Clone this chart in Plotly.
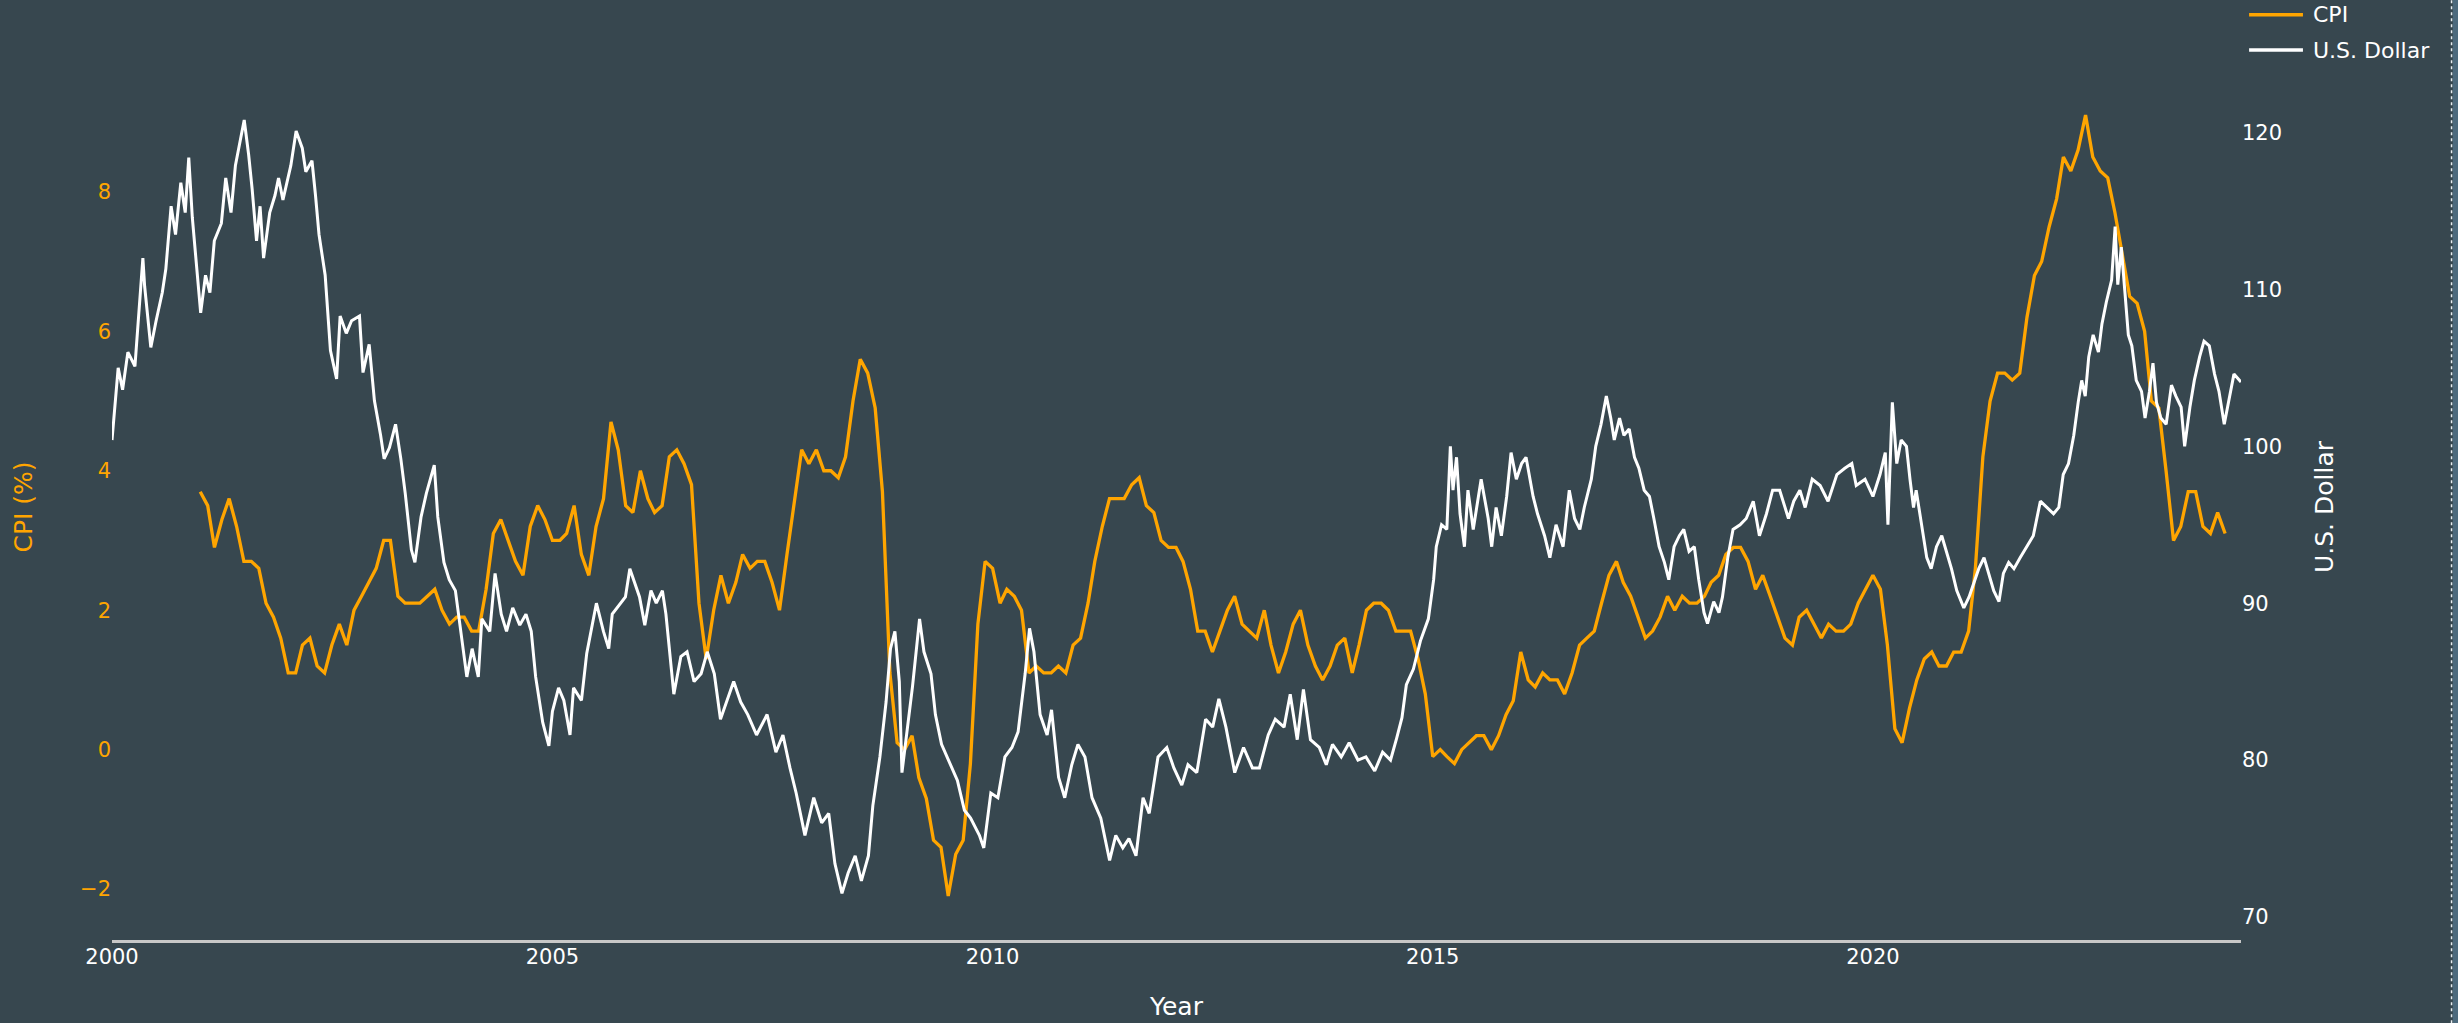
import pandas as pd
import plotly.graph_objects as go

# ---------------- DATA ----------------
# Monthly CPI year-over-year change (%), Jan 2001 .. Jan 2024
cpi_start = "2001-01-01"
cpi_values = [
    3.7, 3.5, 2.9, 3.3, 3.6, 3.2, 2.7, 2.7, 2.6, 2.1, 1.9, 1.6,
    1.1, 1.1, 1.5, 1.6, 1.2, 1.1, 1.5, 1.8, 1.5, 2.0, 2.2, 2.4,
    2.6, 3.0, 3.0, 2.2, 2.1, 2.1, 2.1, 2.2, 2.3, 2.0, 1.8, 1.9,
    1.9, 1.7, 1.7, 2.3, 3.1, 3.3, 3.0, 2.7, 2.5, 3.2, 3.5, 3.3,
    3.0, 3.0, 3.1, 3.5, 2.8, 2.5, 3.2, 3.6, 4.7, 4.3, 3.5, 3.4,
    4.0, 3.6, 3.4, 3.5, 4.2, 4.3, 4.1, 3.8, 2.1, 1.3, 2.0, 2.5,
    2.1, 2.4, 2.8, 2.6, 2.7, 2.7, 2.4, 2.0, 2.8, 3.5, 4.3, 4.1,
    4.3, 4.0, 4.0, 3.9, 4.2, 5.0, 5.6, 5.4, 4.9, 3.7, 1.1, 0.1,
    0.0, 0.2, -0.4, -0.7, -1.3, -1.4, -2.1, -1.5, -1.3, -0.2, 1.8, 2.7,
    2.6, 2.1, 2.3, 2.2, 2.0, 1.1, 1.2, 1.1, 1.1, 1.2, 1.1, 1.5,
    1.6, 2.1, 2.7, 3.2, 3.6, 3.6, 3.6, 3.8, 3.9, 3.5, 3.4, 3.0,
    2.9, 2.9, 2.7, 2.3, 1.7, 1.7, 1.4, 1.7, 2.0, 2.2, 1.8, 1.7,
    1.6, 2.0, 1.5, 1.1, 1.4, 1.8, 2.0, 1.5, 1.2, 1.0, 1.2, 1.5,
    1.6, 1.1, 1.5, 2.0, 2.1, 2.1, 2.0, 1.7, 1.7, 1.7, 1.3, 0.8,
    -0.1, 0.0, -0.1, -0.2, 0.0, 0.1, 0.2, 0.2, 0.0, 0.2, 0.5, 0.7,
    1.4, 1.0, 0.9, 1.1, 1.0, 1.0, 0.8, 1.1, 1.5, 1.6, 1.7, 2.1,
    2.5, 2.7, 2.4, 2.2, 1.9, 1.6, 1.7, 1.9, 2.2, 2.0, 2.2, 2.1,
    2.1, 2.2, 2.4, 2.5, 2.8, 2.9, 2.9, 2.7, 2.3, 2.5, 2.2, 1.9,
    1.6, 1.5, 1.9, 2.0, 1.8, 1.6, 1.8, 1.7, 1.7, 1.8, 2.1, 2.3,
    2.5, 2.3, 1.5, 0.3, 0.1, 0.6, 1.0, 1.3, 1.4, 1.2, 1.2, 1.4,
    1.4, 1.7, 2.6, 4.2, 5.0, 5.4, 5.4, 5.3, 5.4, 6.2, 6.8, 7.0,
    7.5, 7.9, 8.5, 8.3, 8.6, 9.1, 8.5, 8.3, 8.2, 7.7, 7.1, 6.5,
    6.4, 6.0, 5.0, 4.9, 4.0, 3.0, 3.2, 3.7, 3.7, 3.2, 3.1, 3.4,
    3.1,
]

# U.S. Dollar index: (decimal year, value)
usd_time = [
    2000.00, 2000.07, 2000.12, 2000.18, 2000.26, 2000.29, 2000.35, 2000.37, 2000.44, 2000.50,
    2000.57, 2000.61, 2000.67, 2000.72, 2000.78, 2000.83, 2000.87, 2000.91, 2001.005, 2001.06,
    2001.11, 2001.16, 2001.24, 2001.29, 2001.35, 2001.40, 2001.46, 2001.50, 2001.55, 2001.59,
    2001.64, 2001.68, 2001.72, 2001.79, 2001.85, 2001.89, 2001.94, 2002.03, 2002.09, 2002.16,
    2002.20, 2002.27, 2002.31, 2002.35, 2002.42, 2002.48, 2002.55, 2002.59, 2002.66, 2002.72,
    2002.81, 2002.85, 2002.92, 2002.98, 2003.05, 2003.09, 2003.15, 2003.22, 2003.28, 2003.33,
    2003.40, 2003.44, 2003.51, 2003.57, 2003.66, 2003.70, 2003.77, 2003.83, 2003.90, 2003.96,
    2004.03, 2004.09, 2004.16, 2004.20, 2004.29, 2004.35, 2004.42, 2004.48, 2004.55, 2004.63,
    2004.70, 2004.76, 2004.81, 2004.89, 2004.96, 2005.00, 2005.07, 2005.13, 2005.20, 2005.24,
    2005.33, 2005.39, 2005.46, 2005.50, 2005.58, 2005.64, 2005.68, 2005.77, 2005.83, 2005.88,
    2005.94, 2005.99, 2006.05, 2006.12, 2006.18, 2006.25, 2006.29, 2006.38, 2006.46, 2006.53,
    2006.61, 2006.69, 2006.76, 2006.84, 2006.91, 2006.99, 2007.06, 2007.14, 2007.22, 2007.32,
    2007.44, 2007.54, 2007.62, 2007.70, 2007.77, 2007.87, 2007.97, 2008.06, 2008.14, 2008.21,
    2008.29, 2008.36, 2008.44, 2008.51, 2008.59, 2008.64, 2008.72, 2008.79, 2008.84, 2008.89,
    2008.94, 2008.97, 2009.02, 2009.09, 2009.17, 2009.22, 2009.30, 2009.35, 2009.42, 2009.50,
    2009.60, 2009.68, 2009.75, 2009.85, 2009.90, 2009.98, 2010.06, 2010.14, 2010.22, 2010.29,
    2010.37, 2010.42, 2010.47, 2010.54, 2010.62, 2010.67, 2010.75, 2010.82, 2010.90, 2010.97,
    2011.05, 2011.13, 2011.23, 2011.33, 2011.40, 2011.48, 2011.55, 2011.63, 2011.71, 2011.78,
    2011.88, 2011.98, 2012.06, 2012.15, 2012.22, 2012.32, 2012.42, 2012.50, 2012.57, 2012.65,
    2012.75, 2012.85, 2012.95, 2013.03, 2013.13, 2013.21, 2013.31, 2013.38, 2013.46, 2013.53,
    2013.61, 2013.71, 2013.79, 2013.86, 2013.96, 2014.05, 2014.15, 2014.24, 2014.34, 2014.43,
    2014.52, 2014.59, 2014.65, 2014.70, 2014.78, 2014.86, 2014.95, 2015.01, 2015.04, 2015.10,
    2015.16, 2015.20, 2015.23, 2015.27, 2015.31, 2015.36, 2015.40, 2015.46, 2015.55, 2015.63,
    2015.67, 2015.72, 2015.78, 2015.84, 2015.89, 2015.95, 2016.01, 2016.06, 2016.14, 2016.19,
    2016.27, 2016.33, 2016.40, 2016.48, 2016.55, 2016.61, 2016.67, 2016.72, 2016.80, 2016.85,
    2016.91, 2016.97, 2017.02, 2017.06, 2017.12, 2017.17, 2017.23, 2017.29, 2017.34, 2017.40,
    2017.46, 2017.51, 2017.57, 2017.63, 2017.68, 2017.74, 2017.80, 2017.85, 2017.91, 2017.97,
    2018.02, 2018.08, 2018.12, 2018.19, 2018.25, 2018.29, 2018.35, 2018.41, 2018.49, 2018.56,
    2018.64, 2018.71, 2018.79, 2018.86, 2018.94, 2019.04, 2019.10, 2019.17, 2019.23, 2019.31,
    2019.40, 2019.49, 2019.59, 2019.68, 2019.76, 2019.81, 2019.91, 2020.00, 2020.08, 2020.14,
    2020.17, 2020.22, 2020.27, 2020.32, 2020.38, 2020.42, 2020.46, 2020.49, 2020.55, 2020.61,
    2020.66, 2020.72, 2020.78, 2020.83, 2020.89, 2020.95, 2021.03, 2021.09, 2021.14, 2021.20,
    2021.26, 2021.31, 2021.37, 2021.43, 2021.48, 2021.54, 2021.60, 2021.67, 2021.75, 2021.82,
    2021.90, 2021.97, 2022.05, 2022.11, 2022.16, 2022.22, 2022.28, 2022.33, 2022.37, 2022.41,
    2022.45, 2022.50, 2022.56, 2022.60, 2022.65, 2022.71, 2022.75, 2022.78, 2022.82, 2022.86,
    2022.90, 2022.94, 2022.99, 2023.05, 2023.09, 2023.14, 2023.18, 2023.22, 2023.27, 2023.33,
    2023.39, 2023.44, 2023.50, 2023.54, 2023.60, 2023.65, 2023.71, 2023.76, 2023.82, 2023.88,
    2023.93, 2023.99, 2024.05, 2024.10, 2024.18,
]
usd_values = [
    100.4, 105.0, 103.6, 106.0, 105.1, 107.3, 112.0, 110.2, 106.3, 108.0,
    109.8, 111.3, 115.3, 113.5, 116.8, 114.9, 118.4, 114.6, 108.5, 110.9,
    109.8, 113.1, 114.2, 117.1, 114.9, 117.9, 119.7, 120.8, 118.6, 116.4,
    113.1, 115.3, 112.0, 114.9, 116.0, 117.1, 115.7, 117.9, 120.1, 119.0,
    117.5, 118.2, 116.0, 113.5, 110.9, 106.1, 104.3, 108.3, 107.2, 108.0,
    108.3, 104.7, 106.5, 102.9, 100.7, 99.2, 99.9, 101.4, 99.2, 97.0,
    93.4, 92.6, 95.5, 97.0, 98.8, 95.5, 92.6, 91.5, 90.8, 88.2,
    85.3, 87.1, 85.3, 89.0, 88.2, 91.9, 89.3, 88.2, 89.7, 88.6,
    89.3, 88.2, 85.3, 82.4, 80.9, 83.1, 84.6, 83.8, 81.6, 84.6,
    83.8, 86.8, 89.0, 90.0, 88.2, 87.1, 89.3, 90.0, 90.4, 92.2,
    91.2, 90.4, 88.6, 90.8, 90.0, 90.8, 89.3, 84.2, 86.6, 86.9,
    85.0, 85.5, 86.9, 85.5, 82.6, 83.9, 85.0, 83.7, 82.9, 81.6,
    82.9, 80.5, 81.6, 79.5, 77.9, 75.2, 77.6, 76.0, 76.6, 73.4,
    71.5, 72.8, 73.9, 72.3, 73.9, 77.1, 80.2, 83.7, 87.1, 88.2,
    85.0, 79.2, 81.6, 84.7, 89.0, 86.9, 85.5, 82.9, 81.0, 80.0,
    78.7, 76.8, 76.3, 75.2, 74.4, 77.9, 77.6, 80.2, 80.8, 81.8,
    85.5, 88.4, 86.9, 82.9, 81.6, 83.2, 78.9, 77.6, 79.7, 81.0,
    80.2, 77.6, 76.3, 73.6, 75.2, 74.4, 75.0, 73.9, 77.6, 76.6,
    80.2, 80.8, 79.5, 78.4, 79.7, 79.2, 82.6, 82.1, 83.9, 82.1,
    79.2, 80.8, 79.5, 79.5, 81.6, 82.6, 82.1, 84.2, 81.3, 84.5,
    81.3, 80.8, 79.7, 81.0, 80.2, 81.1, 80.0, 80.2, 79.3, 80.5,
    80.0, 81.4, 82.7, 84.8, 85.8, 87.6, 89.0, 91.5, 93.6, 95.0,
    94.7, 100.0, 97.2, 99.3, 95.7, 93.6, 97.2, 94.7, 97.9, 95.4,
    93.6, 96.1, 94.3, 96.8, 99.6, 97.9, 98.9, 99.3, 96.8, 95.7,
    94.3, 92.9, 95.0, 93.6, 97.2, 95.4, 94.7, 96.1, 97.9, 100.0,
    101.4, 103.2, 101.8, 100.4, 101.8, 100.7, 101.1, 99.3, 98.6, 97.2,
    96.8, 95.4, 93.6, 92.6, 91.5, 93.6, 94.3, 94.7, 93.3, 93.6,
    91.5, 89.4, 88.7, 90.1, 89.4, 90.4, 92.9, 94.7, 95.0, 95.4,
    96.5, 94.3, 95.7, 97.2, 97.2, 95.4, 96.5, 97.2, 96.1, 97.9,
    97.5, 96.5, 98.2, 98.6, 98.9, 97.5, 97.9, 96.8, 98.2, 99.6,
    95.0, 102.8, 98.9, 100.4, 100.0, 97.9, 96.1, 97.2, 95.0, 92.9,
    92.2, 93.6, 94.3, 93.3, 92.2, 90.8, 89.7, 90.4, 91.2, 92.2,
    92.9, 91.9, 90.8, 90.1, 91.9, 92.6, 92.2, 92.9, 93.6, 94.3,
    96.5, 96.1, 95.7, 96.1, 98.2, 98.9, 100.7, 102.8, 104.2, 103.2,
    105.7, 107.1, 106.0, 107.8, 109.2, 110.6, 114.0, 110.3, 112.7, 109.9,
    107.1, 106.4, 104.2, 103.5, 101.8, 103.5, 105.3, 102.8, 101.8, 101.4,
    103.9, 103.2, 102.5, 100.0, 102.5, 104.2, 105.7, 106.7, 106.4, 104.6,
    103.5, 101.4, 103.2, 104.6, 104.1,
]

series_names = ["CPI", "U.S. Dollar"]
tick_years = [2000, 2005, 2010, 2015, 2020]
cpi_axis_range = [-2.73, 9.69]
usd_axis_range = [68.53, 123.73]

# ---------------- HELPERS ----------------
def decimal_year_to_date(t):
    y = int(t)
    start = pd.Timestamp(year=y, month=1, day=1)
    end = pd.Timestamp(year=y + 1, month=1, day=1)
    return start + (end - start) * (t - y)

cpi_dates = pd.date_range(cpi_start, periods=len(cpi_values), freq="MS")
usd_dates = [decimal_year_to_date(t) for t in usd_time]

BG = "#37474F"
ORANGE = "#FFA500"
WHITE = "#FFFFFF"
FONT = "Verdana, DejaVu Sans, sans-serif"
colors = [ORANGE, WHITE]

fig = go.Figure()
fig.add_trace(go.Scatter(
    x=cpi_dates, y=cpi_values, name=series_names[0], mode="lines",
    line=dict(color=ORANGE, width=3.3), yaxis="y", showlegend=False,
))
fig.add_trace(go.Scatter(
    x=usd_dates, y=usd_values, name=series_names[1], mode="lines",
    line=dict(color=WHITE, width=3.0), yaxis="y2", showlegend=False,
))

# Legend (drawn in paper space, top-right above the plot)
legend_rows_y = [1.0685, 1.0277]
shapes = []
annotations = []
for name, col, yy in zip(series_names, colors, legend_rows_y):
    shapes.append(dict(type="line", xref="paper", yref="paper",
                       x0=1.0038, x1=1.0291, y0=yy, y1=yy,
                       line=dict(color=col, width=3.5)))
    annotations.append(dict(text=name, xref="paper", yref="paper",
                            x=1.0328, y=yy, xanchor="left", yanchor="middle",
                            showarrow=False,
                            font=dict(family=FONT, size=22, color=WHITE)))

# page-edge dotted border at far right
shapes.append(dict(type="rect", xref="paper", yref="paper",
                   x0=1.0995, x1=1.11, y0=-0.2, y1=1.2,
                   fillcolor="#4D6A7D", line=dict(width=0), layer="below"))
shapes.append(dict(type="line", xref="paper", yref="paper",
                   x0=1.0989, x1=1.0989, y0=-0.2, y1=1.2,
                   line=dict(color="#E8EEF2", width=1.5, dash="dot")))

fig.update_layout(
    template="none",
    width=2458, height=1023, autosize=False,
    margin=dict(l=112, r=217, t=74, b=83, pad=0, autoexpand=False),
    paper_bgcolor=BG, plot_bgcolor=BG,
    font=dict(family=FONT, size=21, color=WHITE),
    showlegend=False,
    xaxis=dict(
        type="date",
        showgrid=False, zeroline=False, showline=True,
        linecolor="#C8C8C8", linewidth=3, ticks="",
        tickvals=[pd.Timestamp(year=y, month=1, day=1) for y in tick_years],
        ticktext=[str(y) for y in tick_years],
        tickfont=dict(family=FONT, size=21, color=WHITE),
        ticklabelstandoff=-4,
        title=dict(text="Year", font=dict(family=FONT, size=25, color=WHITE), standoff=30),
        automargin=False,
    ),
    yaxis=dict(
        range=cpi_axis_range,
        showgrid=False, zeroline=False, showline=False, ticks="",
        tickfont=dict(family=FONT, size=21, color=ORANGE),
        title=dict(text="CPI (%)", font=dict(family=FONT, size=25, color=ORANGE), standoff=40),
        automargin=False,
    ),
    yaxis2=dict(
        range=usd_axis_range,
        overlaying="y", side="right",
        showgrid=False, zeroline=False, showline=False, ticks="",
        tickfont=dict(family=FONT, size=21, color=WHITE),
        title=dict(text="U.S. Dollar", font=dict(family=FONT, size=25, color=WHITE), standoff=34),
        automargin=False,
    ),
    shapes=shapes,
    annotations=annotations,
)

fig.write_html(
    "out.html",
    config={"displayModeBar": False},
    post_script="document.body.style.margin='0';document.body.style.overflow='hidden';"
                "document.documentElement.style.overflow='hidden';",
)
